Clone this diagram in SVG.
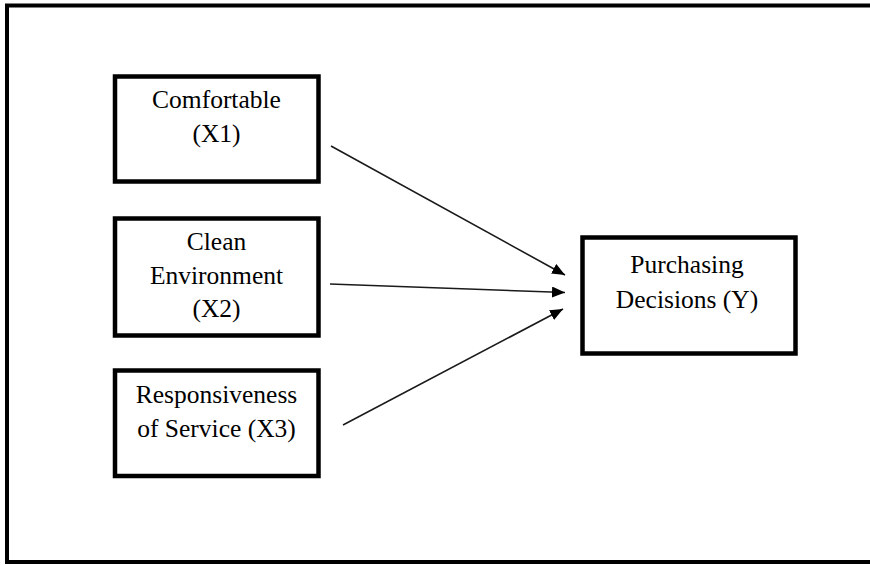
<svg xmlns="http://www.w3.org/2000/svg" width="870" height="565" viewBox="0 0 870 565">
  <style>
    .box { fill: #ffffff; stroke: #000000; stroke-width: 4.5; }
    .frame { fill: #ffffff; stroke: #000000; stroke-width: 4; }
    .lbl { font-family: "Liberation Serif", "Times New Roman", serif; font-size: 25.5px; fill: #000000; text-anchor: middle; }
    .conn { stroke: #1a1a1a; stroke-width: 1.6; fill: none; marker-end: url(#arrow); }
  </style>
  <defs>
    <marker id="arrow" markerUnits="userSpaceOnUse" markerWidth="14" markerHeight="12" refX="13" refY="5.5" orient="auto">
      <path d="M0,0 L13,5.5 L0,11 Z" fill="#000000"/>
    </marker>
  </defs>
  <rect x="0" y="0" width="870" height="565" fill="#ffffff"/>
  <rect class="frame" x="7" y="5.5" width="880" height="556.5"/>

  <g id="node-x1">
    <rect class="box" x="115" y="76.5" width="203.5" height="105"/>
    <text class="lbl" x="216.5" y="108">Comfortable</text>
    <text class="lbl" x="216.5" y="142">(X1)</text>
  </g>
  <g id="node-x2">
    <rect class="box" x="115" y="218.5" width="203.5" height="117"/>
    <text class="lbl" x="216.5" y="250">Clean</text>
    <text class="lbl" x="216.5" y="284">Environment</text>
    <text class="lbl" x="216.5" y="317">(X2)</text>
  </g>
  <g id="node-x3">
    <rect class="box" x="115" y="370.5" width="203.5" height="105.5"/>
    <text class="lbl" x="216.5" y="403">Responsiveness</text>
    <text class="lbl" x="216.5" y="437">of Service (X3)</text>
  </g>
  <g id="node-y">
    <rect class="box" x="582.5" y="237.5" width="213" height="116"/>
    <text class="lbl" x="687" y="273">Purchasing</text>
    <text class="lbl" x="687" y="308">Decisions (Y)</text>
  </g>

  <g id="connectors">
    <line class="conn" x1="331" y1="146" x2="565" y2="275"/>
    <line class="conn" x1="330" y1="284" x2="565" y2="292.5"/>
    <line class="conn" x1="343" y1="425" x2="563" y2="309"/>
  </g>
</svg>
